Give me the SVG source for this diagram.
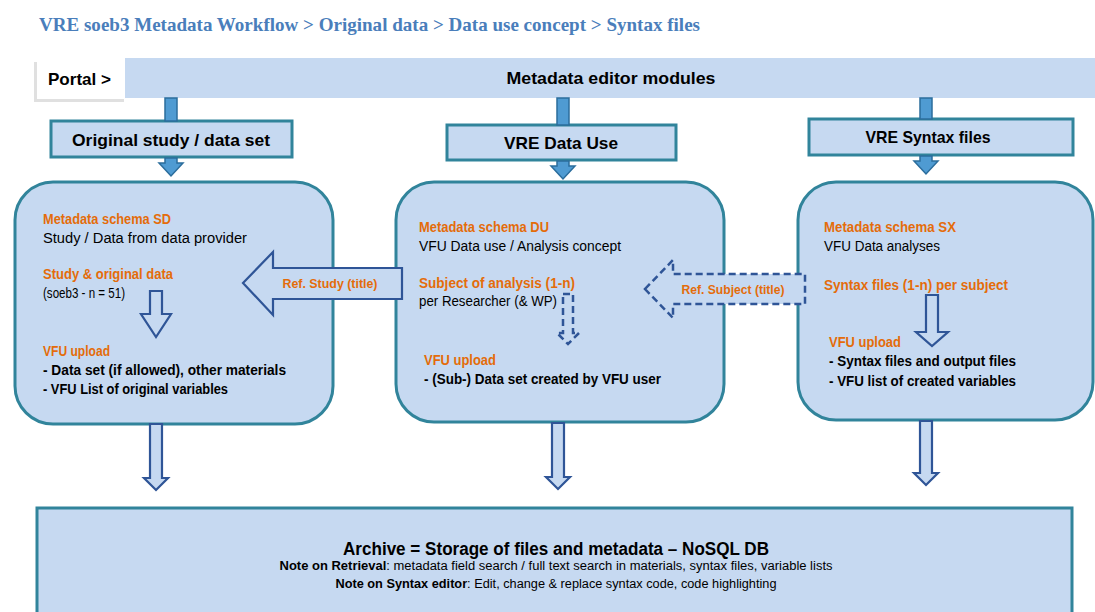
<svg xmlns="http://www.w3.org/2000/svg" width="1095" height="612" viewBox="0 0 1095 612">
<defs>
<style>
.title{font-family:"Liberation Serif","DejaVu Serif",serif;font-weight:bold;font-size:19px;fill:#4a7ebb;}
.hdr{font-family:"Liberation Sans",Arial,sans-serif;font-weight:bold;font-size:17px;fill:#000;}
.or{font-family:"Liberation Sans",Arial,sans-serif;font-weight:bold;font-size:14px;fill:#e46c0a;}
.bk{font-family:"Liberation Sans",Arial,sans-serif;font-size:14px;fill:#000;}
.bb{font-family:"Liberation Sans",Arial,sans-serif;font-weight:bold;font-size:14px;fill:#000;}
.lbl{font-family:"Liberation Sans",Arial,sans-serif;font-weight:bold;font-size:12.5px;fill:#e46c0a;}
.box{fill:#c6d9f1;stroke:#31849b;stroke-width:3;}
.bar{fill:#c6d9f1;}
.conn{fill:#4f9bd2;stroke:#2b6d9c;stroke-width:1.5;}
.hollow{fill:#c6d9f1;stroke:#2f5597;stroke-width:2.2;stroke-linejoin:miter;}
.dash{fill:#c6d9f1;stroke:#2f5597;stroke-width:2.5;stroke-dasharray:7,4;}
.ar{font-family:"Liberation Sans",Arial,sans-serif;fill:#000;}
</style>
</defs>
<rect width="1095" height="612" fill="#ffffff"/>
<text class="title" x="39" y="31" textLength="661" lengthAdjust="spacingAndGlyphs">VRE soeb3 Metadata Workflow &gt; Original data &gt; Data use concept &gt; Syntax files</text>

<g id="modules-bar">
<rect class="bar" x="123" y="58" width="972" height="40"/>
<text class="hdr" x="611" y="84" text-anchor="middle" textLength="209" lengthAdjust="spacingAndGlyphs">Metadata editor modules</text>
</g>
<g id="portal">
<rect x="34" y="62" width="90" height="40" fill="#000" opacity="0.12"/>
<rect x="37" y="58" width="88" height="41" fill="#ffffff"/>
<text class="hdr" x="48" y="85" textLength="63" lengthAdjust="spacingAndGlyphs">Portal &gt;</text>
</g>

<g id="hdr-original">
<rect class="box" x="51" y="121" width="241" height="36"/>
<text class="hdr" x="171" y="146" text-anchor="middle" textLength="198" lengthAdjust="spacingAndGlyphs">Original study / data set</text>
</g>
<g id="hdr-datause">
<rect class="box" x="447" y="125" width="229" height="35"/>
<text class="hdr" x="561" y="149" text-anchor="middle" textLength="114" lengthAdjust="spacingAndGlyphs">VRE Data Use</text>
</g>
<g id="hdr-syntax">
<rect class="box" x="809" y="119" width="264" height="36"/>
<text class="hdr" x="928" y="143" text-anchor="middle" textLength="125" lengthAdjust="spacingAndGlyphs">VRE Syntax files</text>
</g>

<g id="box-original">
<rect class="box" x="15" y="182" width="318" height="242" rx="38"/>
<text class="or" x="43" y="224" textLength="128" lengthAdjust="spacingAndGlyphs">Metadata schema SD</text>
<text class="bk" x="43" y="243" textLength="204" lengthAdjust="spacingAndGlyphs">Study / Data from data provider</text>
<text class="or" x="43" y="279" textLength="130" lengthAdjust="spacingAndGlyphs">Study &amp; original data</text>
<text class="bk" x="43" y="298" textLength="82" lengthAdjust="spacingAndGlyphs">(soeb3 - n = 51)</text>
<text class="or" x="43" y="356" textLength="67" lengthAdjust="spacingAndGlyphs">VFU upload</text>
<text class="bb" x="43" y="375" textLength="243" lengthAdjust="spacingAndGlyphs">- Data set (if allowed), other materials</text>
<text class="bb" x="43" y="394" textLength="185" lengthAdjust="spacingAndGlyphs">- VFU List of original variables</text>
</g>

<g id="box-datause">
<rect class="box" x="396" y="182" width="328" height="240" rx="38"/>
<text class="or" x="419" y="232" textLength="130" lengthAdjust="spacingAndGlyphs">Metadata schema DU</text>
<text class="bk" x="419" y="251" textLength="202" lengthAdjust="spacingAndGlyphs">VFU Data use / Analysis concept</text>
<text class="or" x="419" y="288" textLength="156" lengthAdjust="spacingAndGlyphs">Subject of analysis (1-n)</text>
<text class="bk" x="419" y="306" textLength="138" lengthAdjust="spacingAndGlyphs">per Researcher (&amp; WP)</text>
<text class="or" x="424" y="365" textLength="72" lengthAdjust="spacingAndGlyphs">VFU upload</text>
<text class="bb" x="424" y="384" textLength="237" lengthAdjust="spacingAndGlyphs">- (Sub-) Data set created by VFU user</text>
</g>

<g id="box-syntax">
<rect class="box" x="798" y="182" width="295" height="238" rx="38"/>
<text class="or" x="824" y="232" textLength="132" lengthAdjust="spacingAndGlyphs">Metadata schema SX</text>
<text class="bk" x="824" y="251" textLength="116" lengthAdjust="spacingAndGlyphs">VFU Data analyses</text>
<text class="or" x="824" y="290" textLength="184" lengthAdjust="spacingAndGlyphs">Syntax files (1-n) per subject</text>
<text class="or" x="829" y="347" textLength="72" lengthAdjust="spacingAndGlyphs">VFU upload</text>
<text class="bb" x="829" y="366" textLength="187" lengthAdjust="spacingAndGlyphs">- Syntax files and output files</text>
<text class="bb" x="829" y="386" textLength="187" lengthAdjust="spacingAndGlyphs">- VFU list of created variables</text>
</g>

<g id="archive">
<rect class="box" x="37" y="508" width="1035" height="110"/>
<text class="ar" x="556" y="555" text-anchor="middle" font-size="18" font-weight="bold" textLength="426" lengthAdjust="spacingAndGlyphs">Archive = Storage of files and metadata – NoSQL DB</text>
<text class="ar" x="556" y="570" text-anchor="middle" font-size="12" textLength="553" lengthAdjust="spacingAndGlyphs"><tspan font-weight="bold">Note on Retrieval</tspan>: metadata field search / full text search in materials, syntax files, variable lists</text>
<text class="ar" x="556" y="588" text-anchor="middle" font-size="12" textLength="441" lengthAdjust="spacingAndGlyphs"><tspan font-weight="bold">Note on Syntax editor</tspan>: Edit, change &amp; replace syntax code, code highlighting</text>
</g>

<g id="connectors">
<rect class="conn" x="165" y="98" width="12" height="23"/>
<rect class="conn" x="557" y="98" width="12" height="27"/>
<rect class="conn" x="920" y="98" width="12" height="21"/>
<polygon class="conn" points="165,158 177,158 177,163 183,163 171,176 159,163 165,163"/>
<polygon class="conn" points="557,161 569,161 569,166 575,166 563,179 551,166 557,166"/>
<polygon class="conn" points="920,156 932,156 932,161 938,161 926,174 914,161 920,161"/>

<polygon class="hollow" points="243,283 273,252 273,268 402,268 402,299 273,299 273,315"/>
<text class="lbl" x="330" y="288" text-anchor="middle" textLength="95" lengthAdjust="spacingAndGlyphs">Ref. Study (title)</text>
<polygon class="dash" points="645,289 673,260 673,274 805,274 805,304 673,304 673,318"/>
<text class="lbl" x="733" y="294" text-anchor="middle" textLength="103" lengthAdjust="spacingAndGlyphs">Ref. Subject (title)</text>

<polygon class="hollow" points="150,291 162,291 162,314 171,314 156,337 141,314 150,314"/>
<polygon class="dash" points="563,294 573,294 573,333 579,333 568,344 557,333 563,333"/>
<polygon class="hollow" points="926,295 938,295 938,332 948,332 932,346 916,332 926,332"/>

<polygon class="hollow" points="150,424 162,424 162,478 168,478 156,490 144,478 150,478"/>
<polygon class="hollow" points="552,423 564,423 564,477 570,477 558,489 546,477 552,477"/>
<polygon class="hollow" points="920,421 932,421 932,473 938,473 926,485 914,473 920,473"/>
</g>
</svg>
